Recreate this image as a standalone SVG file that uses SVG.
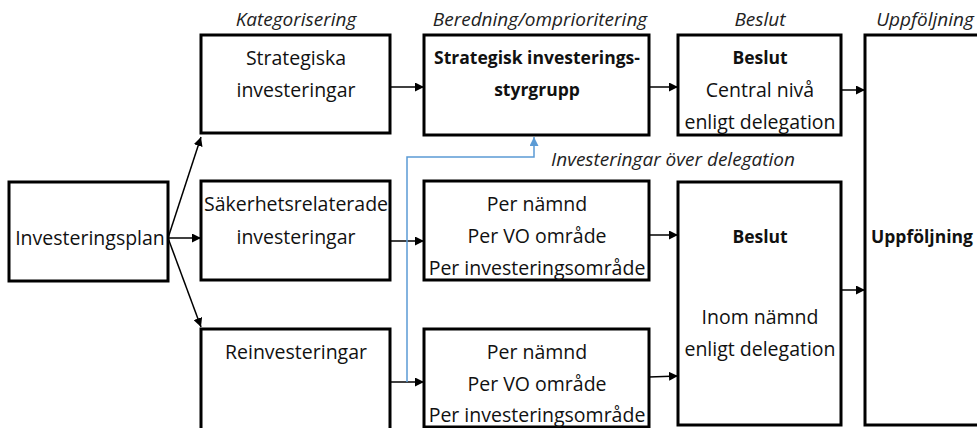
<svg xmlns="http://www.w3.org/2000/svg" width="977" height="428" viewBox="0 0 977 428">
<defs>
<style>
.box{fill:#fff;stroke:#000;stroke-width:3}
text{font-family:"Open Sans","Liberation Sans",sans-serif;font-size:19.5px;fill:#111;text-anchor:middle}
.b{font-weight:bold;font-size:17.5px}
.h{font-style:italic;fill:#222;font-size:19px}
.c{stroke:#000;stroke-width:1.5;fill:none;marker-end:url(#ah)}
.blue{stroke:#5b9bd5;stroke-width:1.5;fill:none;marker-end:url(#bh)}
</style>
<marker id="ah" viewBox="0 0 10 10" refX="10" refY="5" markerWidth="9" markerHeight="9" markerUnits="userSpaceOnUse" orient="auto"><path d="M0,0L10,5L0,10z" fill="#000"/></marker>
<marker id="bh" viewBox="0 0 10 10" refX="10" refY="5" markerWidth="9" markerHeight="9" markerUnits="userSpaceOnUse" orient="auto"><path d="M0,0L10,5L0,10z" fill="#5b9bd5"/></marker>
</defs>
<g id="headers">
<text class="h" x="296" y="26">Kategorisering</text>
<text class="h" x="540" y="26">Beredning/omprioritering</text>
<text class="h" x="760" y="26">Beslut</text>
<text class="h" x="925" y="26">Uppföljning</text>
<text class="h" x="673" y="166">Investeringar över delegation</text>
</g>
<g id="connectors">
<line class="c" x1="168" y1="238" x2="201" y2="137"/>
<line class="c" x1="168" y1="238" x2="201" y2="238"/>
<line class="c" x1="168" y1="238" x2="201" y2="327"/>
<line class="c" x1="390" y1="87" x2="424" y2="87"/>
<line class="c" x1="649" y1="87" x2="678" y2="87"/>
<line class="c" x1="841" y1="90" x2="865" y2="90"/>
<line class="c" x1="390" y1="241" x2="424" y2="241"/>
<line class="c" x1="649" y1="235" x2="678" y2="235"/>
<line class="c" x1="390" y1="382" x2="424" y2="382"/>
<line class="c" x1="649" y1="377" x2="678" y2="376"/>
<line class="c" x1="841" y1="290" x2="865" y2="290"/>
<polyline class="blue" points="407,382 407,157 534,157 534,137"/>
</g>
<g id="investeringsplan"><rect class="box" x="9" y="182" width="159" height="99"/><text x="90" y="245">Investeringsplan</text></g>
<g id="strategiska"><rect class="box" x="201" y="35" width="189" height="98"/><text x="296" y="65">Strategiska</text><text x="296" y="97">investeringar</text></g>
<g id="sakerhet"><rect class="box" x="201" y="181" width="189" height="99"/><text x="296" y="211">Säkerhetsrelaterade</text><text x="296" y="244">investeringar</text></g>
<g id="reinvest"><rect class="box" x="201" y="329" width="189" height="110"/><text x="296" y="359">Reinvesteringar</text></g>
<g id="styrgrupp"><rect class="box" x="424" y="35" width="225" height="100"/><text class="b" x="537" y="64">Strategisk investerings-</text><text class="b" x="537" y="96">styrgrupp</text></g>
<g id="per1"><rect class="box" x="424" y="181" width="225" height="99"/><text x="537" y="211">Per nämnd</text><text x="537" y="243">Per VO område</text><text x="537" y="275">Per investeringsområde</text></g>
<g id="per2"><rect class="box" x="424" y="329" width="225" height="98"/><text x="537" y="359">Per nämnd</text><text x="537" y="391">Per VO område</text><text x="537" y="422">Per investeringsområde</text></g>
<g id="beslut1"><rect class="box" x="678" y="35" width="163" height="100"/><text class="b" x="760" y="64">Beslut</text><text x="760" y="97">Central nivå</text><text x="760" y="129">enligt delegation</text></g>
<g id="beslut2"><rect class="box" x="678" y="182" width="163" height="243"/><text class="b" x="760" y="243">Beslut</text><text x="760" y="324">Inom nämnd</text><text x="760" y="356">enligt delegation</text></g>
<g id="uppfoljning"><rect class="box" x="865" y="35" width="115" height="390"/><text class="b" x="922" y="243">Uppföljning</text></g>
</svg>
